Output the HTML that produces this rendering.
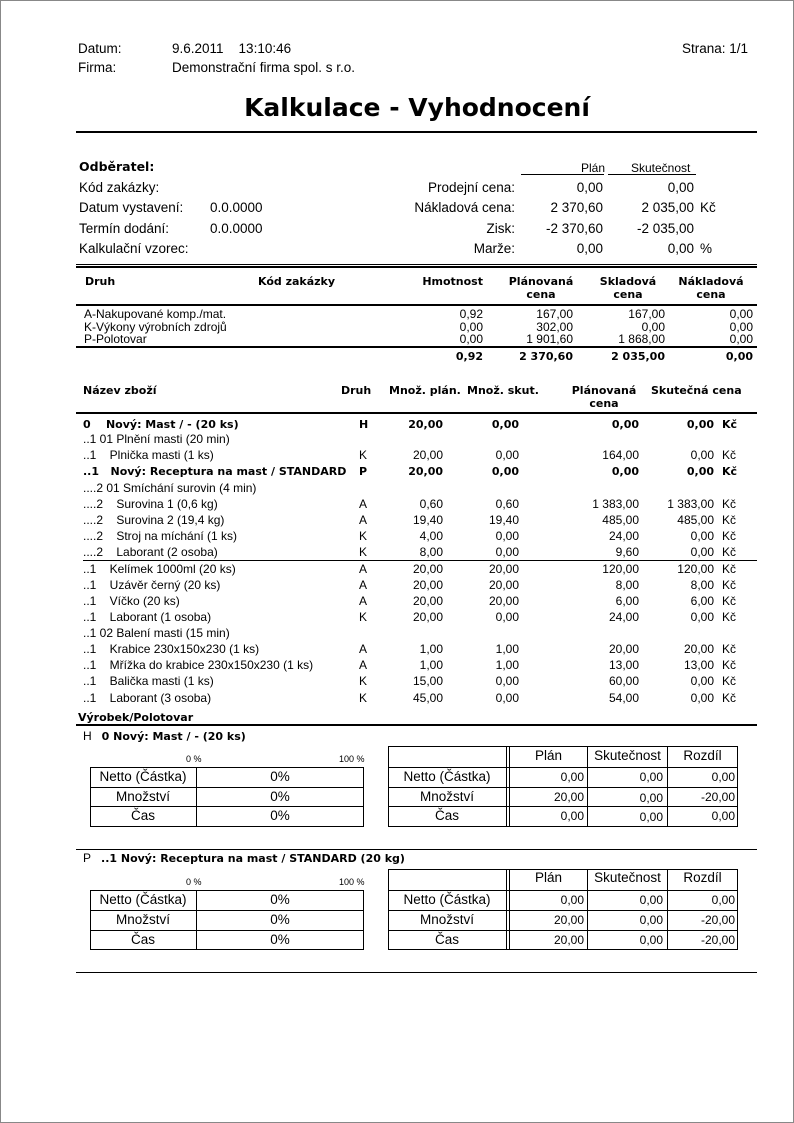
<!DOCTYPE html>
<html><head><meta charset="utf-8"><style>
body{margin:0;background:#fff}
#p{position:relative;width:792px;height:1121px;border:1px solid #888;overflow:hidden;font-family:"Liberation Sans","DejaVu Sans",sans-serif;color:#000}
#p div{position:absolute;white-space:nowrap}
.t{font-size:13.5px;line-height:14px}
.s{font-size:12px;line-height:13px}
.b,b{font-weight:bold;font-family:"DejaVu Sans",sans-serif;font-size:11px}
.t.b{font-size:12.5px}
.r{text-align:right}
.c{text-align:center}
.ln{background:#000;height:1px}
.bx{border:1px solid #000;box-sizing:border-box}
</style></head><body><div id="p">
<div class="t" style="left:77px;top:41px">Datum:</div>
<div class="t" style="left:171px;top:41px">9.6.2011&nbsp;&nbsp;&nbsp;&nbsp;13:10:46</div>
<div class="t" style="left:681px;top:41px">Strana: 1/1</div>
<div class="t" style="left:77px;top:60px">Firma:</div>
<div class="t" style="left:171px;top:60px">Demonstrační firma spol. s r.o.</div>
<div style="left:150px;width:532px;top:92px;font-size:25px;line-height:30px;text-align:center;font-weight:bold;font-family:'DejaVu Sans',sans-serif">Kalkulace - Vyhodnocení</div>
<div class="ln" style="left:75px;width:681px;top:130px;height:2px"></div>

<div class="t b" style="left:78px;top:159px">Odběratel:</div>
<div class="s" style="left:580px;top:161px">Plán</div>
<div class="s" style="left:630px;top:161px">Skutečnost</div>
<div class="ln" style="left:520px;width:83px;top:173px"></div>
<div class="ln" style="left:607px;width:88px;top:173px"></div>
<div class="t" style="left:78px;top:180px">Kód zakázky:</div>
<div class="t" style="left:78px;top:200px">Datum vystavení:</div>
<div class="t" style="left:209px;top:200px">0.0.0000</div>
<div class="t" style="left:78px;top:221px">Termín dodání:</div>
<div class="t" style="left:209px;top:221px">0.0.0000</div>
<div class="t" style="left:78px;top:241px">Kalkulační vzorec:</div>
<div class="t r" style="right:278px;top:180px">Prodejní cena:</div>
<div class="t r" style="right:278px;top:200px">Nákladová cena:</div>
<div class="t r" style="right:278px;top:221px">Zisk:</div>
<div class="t r" style="right:278px;top:241px">Marže:</div>
<div class="t r" style="right:190px;top:180px">0,00</div>
<div class="t r" style="right:190px;top:200px">2 370,60</div>
<div class="t r" style="right:190px;top:221px">-2 370,60</div>
<div class="t r" style="right:190px;top:241px">0,00</div>
<div class="t r" style="right:99px;top:180px">0,00</div>
<div class="t r" style="right:99px;top:200px">2 035,00</div>
<div class="t r" style="right:99px;top:221px">-2 035,00</div>
<div class="t r" style="right:99px;top:241px">0,00</div>
<div class="t" style="left:699px;top:200px">Kč</div>
<div class="t" style="left:699px;top:241px">%</div>

<div class="ln" style="left:75px;width:681px;top:263px"></div>
<div class="ln" style="left:75px;width:681px;top:265px;height:2px"></div>
<div class="s b" style="left:84px;top:274px">Druh</div>
<div class="s b" style="left:257px;top:274px">Kód zakázky</div>
<div class="s b r" style="right:310px;top:274px">Hmotnost</div>
<div class="s b c" style="left:497px;width:86px;top:274px">Plánovaná<br>cena</div>
<div class="s b c" style="left:584px;width:86px;top:274px">Skladová<br>cena</div>
<div class="s b c" style="left:667px;width:86px;top:274px">Nákladová<br>cena</div>
<div class="ln" style="left:75px;width:681px;top:303px;height:2px"></div>
<div class="s" style="left:83px;top:307px;line-height:12.5px">A-Nakupované komp./mat.<br>K-Výkony výrobních zdrojů<br>P-Polotovar</div>
<div class="s r" style="right:310px;top:307px;line-height:12.5px">0,92<br>0,00<br>0,00</div>
<div class="s r" style="right:220px;top:307px;line-height:12.5px">167,00<br>302,00<br>1 901,60</div>
<div class="s r" style="right:128px;top:307px;line-height:12.5px">167,00<br>0,00<br>1 868,00</div>
<div class="s r" style="right:40px;top:307px;line-height:12.5px">0,00<br>0,00<br>0,00</div>
<div class="ln" style="left:75px;width:681px;top:345px;height:2px"></div>
<div class="s b r" style="right:310px;top:349px">0,92</div>
<div class="s b r" style="right:220px;top:349px">2 370,60</div>
<div class="s b r" style="right:128px;top:349px">2 035,00</div>
<div class="s b r" style="right:40px;top:349px">0,00</div>

<div class="s b" style="left:82px;top:383px">Název zboží</div>
<div class="s b" style="left:340px;top:383px">Druh</div>
<div class="s b" style="left:388px;top:383px">Množ. plán.</div>
<div class="s b" style="left:466px;top:383px">Množ. skut.</div>
<div class="s b c" style="left:560px;width:86px;top:383px">Plánovaná<br>cena</div>
<div class="s b" style="left:650px;top:383px">Skutečná cena</div>
<div class="ln" style="left:75px;width:681px;top:411px;height:2px"></div>

<div class="s b" style="left:82px;top:417px">0&nbsp;&nbsp;&nbsp;&nbsp;Nový: Mast / - (20 ks)</div>
<div class="s b" style="left:358px;top:417px">H</div><div class="s b r" style="right:350px;top:417px">20,00</div><div class="s b r" style="right:274px;top:417px">0,00</div><div class="s b r" style="right:154px;top:417px">0,00</div><div class="s b r" style="right:79px;top:417px">0,00</div><div class="s b" style="left:721px;top:417px">Kč</div>
<div class="s" style="left:82px;top:432px">..1 01 Plnění masti (20 min)</div>
<div class="s" style="left:82px;top:448px">..1&nbsp;&nbsp;&nbsp;&nbsp;Plnička masti (1 ks)</div>
<div class="s" style="left:358px;top:448px">K</div><div class="s r" style="right:350px;top:448px">20,00</div><div class="s r" style="right:274px;top:448px">0,00</div><div class="s r" style="right:154px;top:448px">164,00</div><div class="s r" style="right:79px;top:448px">0,00</div><div class="s" style="left:721px;top:448px">Kč</div>
<div class="s b" style="left:82px;top:464px;width:270px;overflow:hidden">..1&nbsp;&nbsp;&nbsp;Nový: Receptura na mast / STANDARD</div>
<div class="s b" style="left:358px;top:464px">P</div><div class="s b r" style="right:350px;top:464px">20,00</div><div class="s b r" style="right:274px;top:464px">0,00</div><div class="s b r" style="right:154px;top:464px">0,00</div><div class="s b r" style="right:79px;top:464px">0,00</div><div class="s b" style="left:721px;top:464px">Kč</div>
<div class="s" style="left:82px;top:481px">....2 01 Smíchání surovin (4 min)</div>
<div class="s" style="left:82px;top:497px">....2&nbsp;&nbsp;&nbsp;&nbsp;Surovina 1 (0,6 kg)</div>
<div class="s" style="left:358px;top:497px">A</div><div class="s r" style="right:350px;top:497px">0,60</div><div class="s r" style="right:274px;top:497px">0,60</div><div class="s r" style="right:154px;top:497px">1 383,00</div><div class="s r" style="right:79px;top:497px">1 383,00</div><div class="s" style="left:721px;top:497px">Kč</div>
<div class="s" style="left:82px;top:513px">....2&nbsp;&nbsp;&nbsp;&nbsp;Surovina 2 (19,4 kg)</div>
<div class="s" style="left:358px;top:513px">A</div><div class="s r" style="right:350px;top:513px">19,40</div><div class="s r" style="right:274px;top:513px">19,40</div><div class="s r" style="right:154px;top:513px">485,00</div><div class="s r" style="right:79px;top:513px">485,00</div><div class="s" style="left:721px;top:513px">Kč</div>
<div class="s" style="left:82px;top:529px">....2&nbsp;&nbsp;&nbsp;&nbsp;Stroj na míchání (1 ks)</div>
<div class="s" style="left:358px;top:529px">K</div><div class="s r" style="right:350px;top:529px">4,00</div><div class="s r" style="right:274px;top:529px">0,00</div><div class="s r" style="right:154px;top:529px">24,00</div><div class="s r" style="right:79px;top:529px">0,00</div><div class="s" style="left:721px;top:529px">Kč</div>
<div class="s" style="left:82px;top:545px">....2&nbsp;&nbsp;&nbsp;&nbsp;Laborant (2 osoba)</div>
<div class="s" style="left:358px;top:545px">K</div><div class="s r" style="right:350px;top:545px">8,00</div><div class="s r" style="right:274px;top:545px">0,00</div><div class="s r" style="right:154px;top:545px">9,60</div><div class="s r" style="right:79px;top:545px">0,00</div><div class="s" style="left:721px;top:545px">Kč</div>
<div class="ln" style="left:82px;width:674px;top:559px"></div>
<div class="s" style="left:82px;top:562px">..1&nbsp;&nbsp;&nbsp;&nbsp;Kelímek 1000ml (20 ks)</div>
<div class="s" style="left:358px;top:562px">A</div><div class="s r" style="right:350px;top:562px">20,00</div><div class="s r" style="right:274px;top:562px">20,00</div><div class="s r" style="right:154px;top:562px">120,00</div><div class="s r" style="right:79px;top:562px">120,00</div><div class="s" style="left:721px;top:562px">Kč</div>
<div class="s" style="left:82px;top:578px">..1&nbsp;&nbsp;&nbsp;&nbsp;Uzávěr černý (20 ks)</div>
<div class="s" style="left:358px;top:578px">A</div><div class="s r" style="right:350px;top:578px">20,00</div><div class="s r" style="right:274px;top:578px">20,00</div><div class="s r" style="right:154px;top:578px">8,00</div><div class="s r" style="right:79px;top:578px">8,00</div><div class="s" style="left:721px;top:578px">Kč</div>
<div class="s" style="left:82px;top:594px">..1&nbsp;&nbsp;&nbsp;&nbsp;Víčko (20 ks)</div>
<div class="s" style="left:358px;top:594px">A</div><div class="s r" style="right:350px;top:594px">20,00</div><div class="s r" style="right:274px;top:594px">20,00</div><div class="s r" style="right:154px;top:594px">6,00</div><div class="s r" style="right:79px;top:594px">6,00</div><div class="s" style="left:721px;top:594px">Kč</div>
<div class="s" style="left:82px;top:610px">..1&nbsp;&nbsp;&nbsp;&nbsp;Laborant (1 osoba)</div>
<div class="s" style="left:358px;top:610px">K</div><div class="s r" style="right:350px;top:610px">20,00</div><div class="s r" style="right:274px;top:610px">0,00</div><div class="s r" style="right:154px;top:610px">24,00</div><div class="s r" style="right:79px;top:610px">0,00</div><div class="s" style="left:721px;top:610px">Kč</div>
<div class="s" style="left:82px;top:626px">..1 02 Balení masti (15 min)</div>
<div class="s" style="left:82px;top:642px">..1&nbsp;&nbsp;&nbsp;&nbsp;Krabice 230x150x230 (1 ks)</div>
<div class="s" style="left:358px;top:642px">A</div><div class="s r" style="right:350px;top:642px">1,00</div><div class="s r" style="right:274px;top:642px">1,00</div><div class="s r" style="right:154px;top:642px">20,00</div><div class="s r" style="right:79px;top:642px">20,00</div><div class="s" style="left:721px;top:642px">Kč</div>
<div class="s" style="left:82px;top:658px">..1&nbsp;&nbsp;&nbsp;&nbsp;Mřížka do krabice 230x150x230 (1 ks)</div>
<div class="s" style="left:358px;top:658px">A</div><div class="s r" style="right:350px;top:658px">1,00</div><div class="s r" style="right:274px;top:658px">1,00</div><div class="s r" style="right:154px;top:658px">13,00</div><div class="s r" style="right:79px;top:658px">13,00</div><div class="s" style="left:721px;top:658px">Kč</div>
<div class="s" style="left:82px;top:674px">..1&nbsp;&nbsp;&nbsp;&nbsp;Balička masti (1 ks)</div>
<div class="s" style="left:358px;top:674px">K</div><div class="s r" style="right:350px;top:674px">15,00</div><div class="s r" style="right:274px;top:674px">0,00</div><div class="s r" style="right:154px;top:674px">60,00</div><div class="s r" style="right:79px;top:674px">0,00</div><div class="s" style="left:721px;top:674px">Kč</div>
<div class="s" style="left:82px;top:691px">..1&nbsp;&nbsp;&nbsp;&nbsp;Laborant (3 osoba)</div>
<div class="s" style="left:358px;top:691px">K</div><div class="s r" style="right:350px;top:691px">45,00</div><div class="s r" style="right:274px;top:691px">0,00</div><div class="s r" style="right:154px;top:691px">54,00</div><div class="s r" style="right:79px;top:691px">0,00</div><div class="s" style="left:721px;top:691px">Kč</div>
<div class="s b" style="left:77px;top:710px">Výrobek/Polotovar</div>
<div class="ln" style="left:75px;width:681px;top:723px;height:2px"></div>

<!-- section 1 -->
<div class="s" style="left:82px;top:729px">H&nbsp;&nbsp;&nbsp;<b>0 Nový: Mast / - (20 ks)</b></div>
<div style="left:185px;top:753px;font-size:9px">0 %</div>
<div style="left:338px;top:753px;font-size:9px">100 %</div>
<div class="bx" style="left:89px;top:766px;width:274px;height:60px"></div>
<div class="ln" style="left:89px;width:274px;top:786px"></div>
<div class="ln" style="left:89px;width:274px;top:805px"></div>
<div style="left:195px;top:766px;width:1px;height:60px;background:#000"></div>
<div class="t c" style="left:89px;width:106px;top:769px">Netto (Částka)</div>
<div class="t c" style="left:89px;width:106px;top:789px">Množství</div>
<div class="t c" style="left:89px;width:106px;top:808px">Čas</div>
<div class="t c" style="left:196px;width:166px;top:769px">0%</div>
<div class="t c" style="left:196px;width:166px;top:789px">0%</div>
<div class="t c" style="left:196px;width:166px;top:808px">0%</div>
<div class="bx" style="left:387px;top:745px;width:350px;height:81px"></div>
<div class="ln" style="left:387px;width:350px;top:766px"></div>
<div class="ln" style="left:387px;width:350px;top:786px"></div>
<div class="ln" style="left:387px;width:350px;top:805px"></div>
<div style="left:505px;top:745px;width:1px;height:81px;background:#000"></div>
<div style="left:508px;top:745px;width:1px;height:81px;background:#000"></div>
<div style="left:586px;top:745px;width:1px;height:81px;background:#000"></div>
<div style="left:666px;top:745px;width:1px;height:81px;background:#000"></div>
<div class="t c" style="left:509px;width:77px;top:748px">Plán</div>
<div class="t c" style="left:587px;width:79px;top:748px">Skutečnost</div>
<div class="t c" style="left:667px;width:69px;top:748px">Rozdíl</div>
<div class="t c" style="left:387px;width:118px;top:769px">Netto (Částka)</div>
<div class="t c" style="left:387px;width:118px;top:789px">Množství</div>
<div class="t c" style="left:387px;width:118px;top:808px">Čas</div>
<div class="s r" style="right:209px;top:770px">0,00</div><div class="s r" style="right:130px;top:770px">0,00</div><div class="s r" style="right:58px;top:770px">0,00</div>
<div class="s r" style="right:209px;top:790px">20,00</div><div class="s r" style="right:130px;top:791px">0,00</div><div class="s r" style="right:58px;top:790px">-20,00</div>
<div class="s r" style="right:209px;top:809px">0,00</div><div class="s r" style="right:130px;top:810px">0,00</div><div class="s r" style="right:58px;top:809px">0,00</div>

<!-- section 2 -->
<div class="ln" style="left:75px;width:681px;top:848px"></div>
<div class="s" style="left:82px;top:851px">P&nbsp;&nbsp;&nbsp;<b>..1 Nový: Receptura na mast / STANDARD (20 kg)</b></div>
<div style="left:185px;top:876px;font-size:9px">0 %</div>
<div style="left:338px;top:876px;font-size:9px">100 %</div>
<div class="bx" style="left:89px;top:889px;width:274px;height:60px"></div>
<div class="ln" style="left:89px;width:274px;top:909px"></div>
<div class="ln" style="left:89px;width:274px;top:929px"></div>
<div style="left:195px;top:889px;width:1px;height:60px;background:#000"></div>
<div class="t c" style="left:89px;width:106px;top:892px">Netto (Částka)</div>
<div class="t c" style="left:89px;width:106px;top:912px">Množství</div>
<div class="t c" style="left:89px;width:106px;top:932px">Čas</div>
<div class="t c" style="left:196px;width:166px;top:892px">0%</div>
<div class="t c" style="left:196px;width:166px;top:912px">0%</div>
<div class="t c" style="left:196px;width:166px;top:932px">0%</div>
<div class="bx" style="left:387px;top:868px;width:350px;height:81px"></div>
<div class="ln" style="left:387px;width:350px;top:889px"></div>
<div class="ln" style="left:387px;width:350px;top:909px"></div>
<div class="ln" style="left:387px;width:350px;top:929px"></div>
<div style="left:505px;top:868px;width:1px;height:81px;background:#000"></div>
<div style="left:508px;top:868px;width:1px;height:81px;background:#000"></div>
<div style="left:586px;top:868px;width:1px;height:81px;background:#000"></div>
<div style="left:666px;top:868px;width:1px;height:81px;background:#000"></div>
<div class="t c" style="left:509px;width:77px;top:870px">Plán</div>
<div class="t c" style="left:587px;width:79px;top:870px">Skutečnost</div>
<div class="t c" style="left:667px;width:69px;top:870px">Rozdíl</div>
<div class="t c" style="left:387px;width:118px;top:892px">Netto (Částka)</div>
<div class="t c" style="left:387px;width:118px;top:912px">Množství</div>
<div class="t c" style="left:387px;width:118px;top:932px">Čas</div>
<div class="s r" style="right:209px;top:893px">0,00</div><div class="s r" style="right:130px;top:893px">0,00</div><div class="s r" style="right:58px;top:893px">0,00</div>
<div class="s r" style="right:209px;top:913px">20,00</div><div class="s r" style="right:130px;top:913px">0,00</div><div class="s r" style="right:58px;top:913px">-20,00</div>
<div class="s r" style="right:209px;top:933px">20,00</div><div class="s r" style="right:130px;top:933px">0,00</div><div class="s r" style="right:58px;top:933px">-20,00</div>
<div class="ln" style="left:75px;width:681px;top:971px"></div>
</div></body></html>
